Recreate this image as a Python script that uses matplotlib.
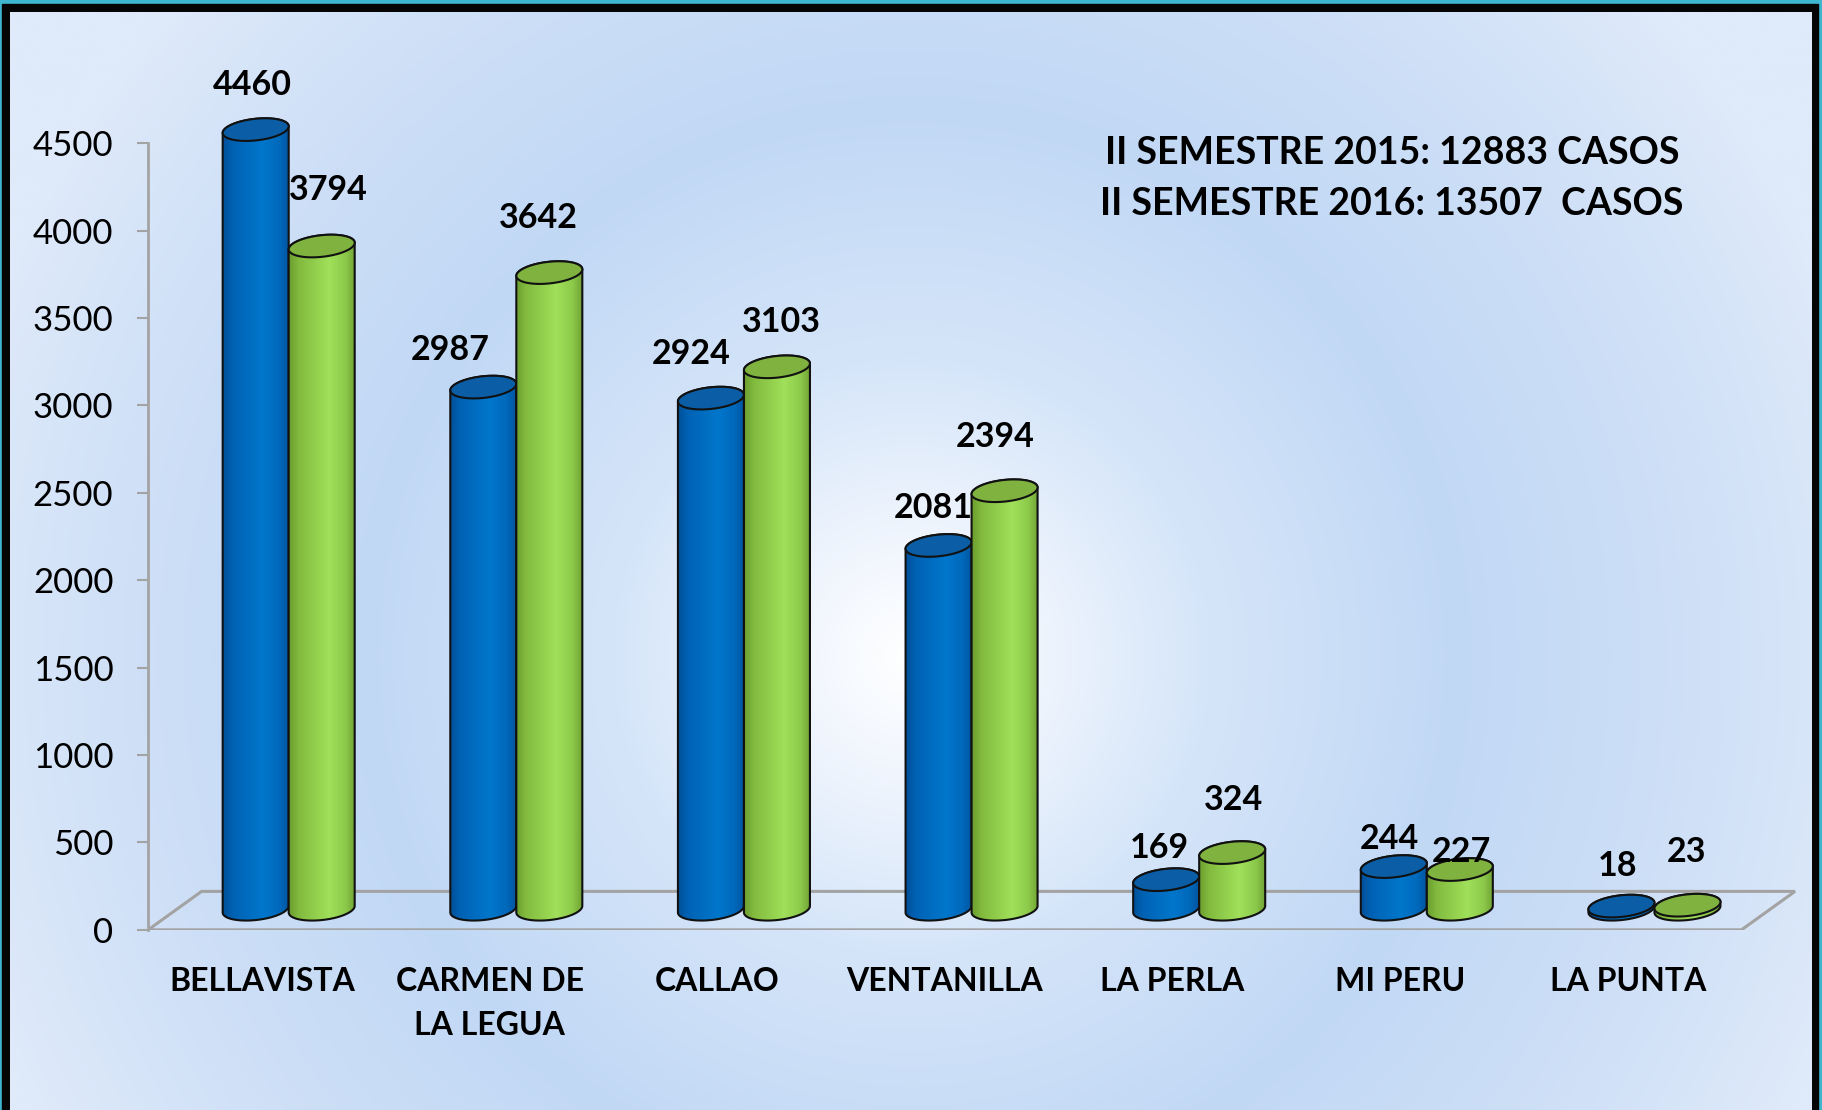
import numpy as np
import matplotlib
matplotlib.use("Agg")
import matplotlib.pyplot as plt
from matplotlib.patches import Polygon, Rectangle
from matplotlib.colors import LinearSegmentedColormap

# datos
categorias = ["BELLAVISTA", "CARMEN DE\nLA LEGUA", "CALLAO", "VENTANILLA",
              "LA PERLA", "MI PERU", "LA PUNTA"]
casos_2015 = [4460, 2987, 2924, 2081, 169, 244, 18]
casos_2016 = [3794, 3642, 3103, 2394, 324, 227, 23]
ticks_y = [0, 500, 1000, 1500, 2000, 2500, 3000, 3500, 4000, 4500]
nota = ["II SEMESTRE 2015: 12883 CASOS", "II SEMESTRE 2016: 13507  CASOS"]

# ajustes de etiquetas (puntos) - estilo, no datos
desp_2015 = [(-2.5, 32), (-24, 27), (-14, 32), (-4, 27), (-5, 23), (-3, 20), (-2.5, 29)]
desp_2016 = [(5, 40), (-8, 39), (3, 32), (-7, 38.5), (1, 38), (1, 12.5), (-1, 38)]

FUENTE = "Lato"
ANCHO = 0.29          # ancho de cada cilindro (unidades de categoria)
PROF_X = 0.235        # profundidad del piso
PROF_Y = 220
BASE = 118            # base de las barras a media profundidad
DX = PROF_X / 2
ELIP_B = 62           # semieje vertical de las tapas
INCL = 130            # inclinacion de las tapas

fig = plt.figure(figsize=(18.22, 11.10), dpi=100)

# fondo: marco + degradado radial
bg = fig.add_axes([0, 0, 1, 1], zorder=-5)
bg.axis("off")
W, H = 911, 555
yy, xx = np.mgrid[0:H, 0:W]
d = np.hypot((xx - 0.5 * W) * 2, (yy - 0.586 * H) * 2) / 1000.0
fondo = LinearSegmentedColormap.from_list(
    "fondo", [(0, "#ffffff"), (0.09, "#f4f8fe"), (0.3, "#d5e5f9"),
              (0.55, "#c1d8f5"), (0.8, "#cfe0f7"), (1.0, "#dfeafa")])
bg.add_patch(Rectangle((0, 0), 1, 1, color="#3fb6cf", zorder=0))
bg.add_patch(Rectangle((2 / 1822, 0), 1816 / 1822, 1 - 4 / 1110, color="#050505", zorder=1))
bg.imshow(np.clip(d, 0, 1), cmap=fondo, vmin=0, vmax=1, aspect="auto",
          extent=[10 / 1822, 1812 / 1822, 0, 1 - 12 / 1110], zorder=2,
          interpolation="bilinear")
bg.set_xlim(0, 1)
bg.set_ylim(0, 1)

ax = fig.add_axes([0.0813, 0.1623, 0.912, 0.7874])
ax.patch.set_visible(False)

# piso
gris = "#a3a3a3"
ax.plot([-0.5, 6.5, 6.5 + PROF_X, -0.5 + PROF_X, -0.5],
        [0, 0, PROF_Y, PROF_Y, 0], color=gris, lw=2.2, zorder=1,
        solid_joinstyle="miter")


def cilindro(xc, valor, colores, tapa, z):
    a = ANCHO / 2
    tb = np.linspace(np.pi, 2 * np.pi, 80)
    xb = xc + a * np.cos(tb)
    yb = BASE + ELIP_B * np.sin(tb) + INCL * (xb - xc)
    y_top = BASE + valor
    tt = np.linspace(0, np.pi, 80)
    xt = xc + a * np.cos(tt)
    yt = y_top + ELIP_B * np.sin(tt) + INCL * (xt - xc)
    cuerpo = Polygon(np.column_stack([np.r_[xb, xt], np.r_[yb, yt]]),
                     closed=True, facecolor="none", edgecolor="#111111",
                     lw=1.5, zorder=z + 0.2)
    ax.add_patch(cuerpo)
    cmap = LinearSegmentedColormap.from_list("c", colores)
    grad = np.linspace(0, 1, 256).reshape(1, -1)
    im = ax.imshow(grad, cmap=cmap, aspect="auto", interpolation="bilinear",
                   extent=[xc - a, xc + a, yb.min() - 5, yt.max() + 5],
                   zorder=z)
    im.set_clip_path(cuerpo)
    ta = np.linspace(0, 2 * np.pi, 120)
    xe = xc + a * np.cos(ta)
    ye = y_top + ELIP_B * np.sin(ta) + INCL * (xe - xc)
    ax.add_patch(Polygon(np.column_stack([xe, ye]), closed=True,
                         facecolor=tapa, edgecolor="#111111", lw=1.5,
                         zorder=z + 0.3))
    return y_top


azul = [(0, "#004f98"), (0.15, "#0062b4"), (0.6, "#0077cc"), (0.85, "#0068ba"), (1, "#00549e")]
verde = [(0, "#6c9e30"), (0.15, "#82bb3e"), (0.6, "#a0e05a"), (0.85, "#8cc94a"), (1, "#6e9f33")]

for i in range(len(categorias)):
    z = 3 + i
    xa = i - ANCHO / 2 + DX
    xv = i + ANCHO / 2 + DX
    ya = cilindro(xa, casos_2015[i], azul, "#0b5ea6", z)
    yv = cilindro(xv, casos_2016[i], verde, "#7fb23f", z + 0.5)
    for xc, yc, v, off in ((xa, ya, casos_2015[i], desp_2015[i]),
                           (xv, yv, casos_2016[i], desp_2016[i])):
        ax.annotate(str(v), (xc, yc), xytext=off, textcoords="offset points",
                    ha="center", va="center", fontsize=24.5, fontweight="bold",
                    family=FUENTE, color="black", zorder=20)

ax.set_xlim(-0.5, 6.8)
ax.set_ylim(0, 5000)

for s in ("top", "right", "bottom"):
    ax.spines[s].set_visible(False)
ax.spines["left"].set_bounds(0, 4500)
ax.spines["left"].set_color(gris)
ax.spines["left"].set_linewidth(2)
ax.set_yticks(ticks_y)
ax.set_yticklabels([str(t) for t in ticks_y], family=FUENTE, fontsize=25)
ax.tick_params(axis="y", length=8, width=1.5, color=gris, pad=17)
ax.set_xticks(range(len(categorias)))
ax.set_xticklabels(categorias, family=FUENTE, fontsize=23, fontweight="bold",
                   linespacing=1.6, va="top")
ax.tick_params(axis="x", length=0, pad=27)

fig.text(0.764, 0.862, nota[0], ha="center", va="center", fontsize=27,
         fontweight="bold", family=FUENTE)
fig.text(0.764, 0.816, nota[1], ha="center", va="center", fontsize=27,
         fontweight="bold", family=FUENTE)

fig.savefig("out.png", dpi=100)
